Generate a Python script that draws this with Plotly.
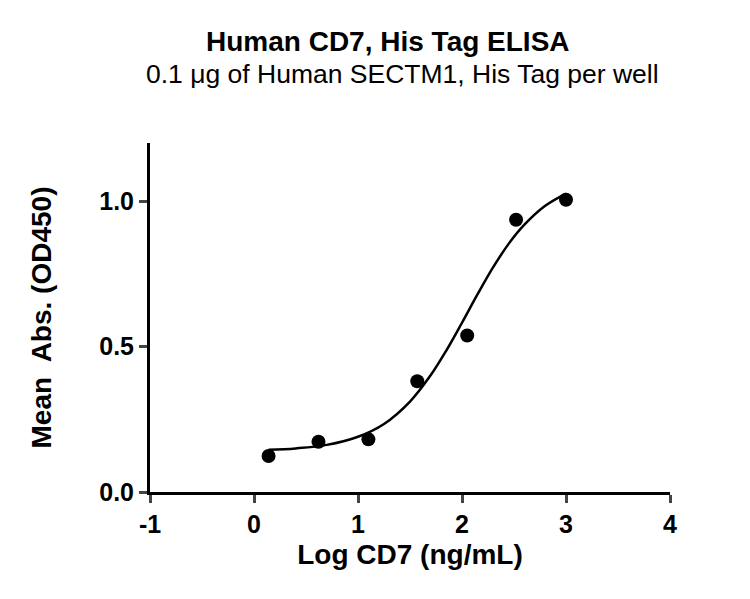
import plotly.graph_objects as go

# pontos medidos (log da concentração x absorbância)
log_conc = [0.14, 0.62, 1.10, 1.57, 2.05, 2.52, 3.00]
abs_media = [0.124, 0.173, 0.181, 0.381, 0.538, 0.936, 1.005]

# curva ajustada
curva_x = [0.14, 0.40, 0.70, 1.00, 1.25, 1.50, 1.70, 1.85, 2.00, 2.15, 2.30, 2.45, 2.60, 2.80, 3.00]
curva_y = [0.145, 0.150, 0.162, 0.190, 0.234, 0.311, 0.402, 0.487, 0.582, 0.680, 0.773, 0.854, 0.919, 0.984, 1.026]

x_ticks = [-1, 0, 1, 2, 3, 4]
x_labels = ['-1', '0', '1', '2', '3', '4']
y_ticks = [0.0, 0.5, 1.0]
y_labels = ['0.0', '0.5', '1.0']

fonte = "Liberation Sans"
# a página tem 8 px de margem no body, então desconto isso
off = 8
l, t = 150 - off, 143 - off
pw, ph = 520, 349

fig = go.Figure()
fig.add_trace(go.Scatter(x=curva_x, y=curva_y, mode='lines', line=dict(color='black', width=2.5, shape='spline'),
                         showlegend=False, hoverinfo='skip'))
fig.add_trace(go.Scatter(x=log_conc, y=abs_media, mode='markers', marker=dict(color='black', size=14),
                         showlegend=False, cliponaxis=False))

fig.update_layout(
    width=750, height=599,
    margin=dict(l=l, r=750 - l - pw, t=t, b=599 - t - ph),
    plot_bgcolor='white', paper_bgcolor='white',
    font=dict(family=fonte, color='black'),
    xaxis=dict(range=[-1, 4], tickvals=x_ticks, ticktext=x_labels, ticks='outside', ticklen=8, tickwidth=3,
               showline=True, linewidth=3, linecolor='black', showgrid=False, zeroline=False,
               tickfont=dict(size=25, weight='bold'),
               title=dict(text='<b>Log CD7 (ng/mL)</b>', font=dict(size=28), standoff=8)),
    yaxis=dict(range=[0, 1.2], tickvals=y_ticks, ticktext=y_labels, ticks='outside', ticklen=8, tickwidth=3,
               showline=True, linewidth=3, linecolor='black', showgrid=False, zeroline=False,
               tickfont=dict(size=25, weight='bold'),
               title=dict(text='<b>Mean\u00a0 Abs. (OD450)</b>', font=dict(size=28), standoff=40)),
)

def px_x(v):
    return (v - off - l) / pw

def px_y(v):
    return (t + ph - (v - off)) / ph

fig.add_annotation(text='<b>Human CD7, His Tag ELISA</b>', x=px_x(388), y=px_y(42), xanchor='center', yanchor='middle',
                   xref='paper', yref='paper', showarrow=False, font=dict(size=28))
fig.add_annotation(text='0.1 μg of Human SECTM1, His Tag per well', x=px_x(402), y=px_y(74), xanchor='center',
                   yanchor='middle', xref='paper', yref='paper', showarrow=False, font=dict(size=26.5))

fig.write_html("out.html")
